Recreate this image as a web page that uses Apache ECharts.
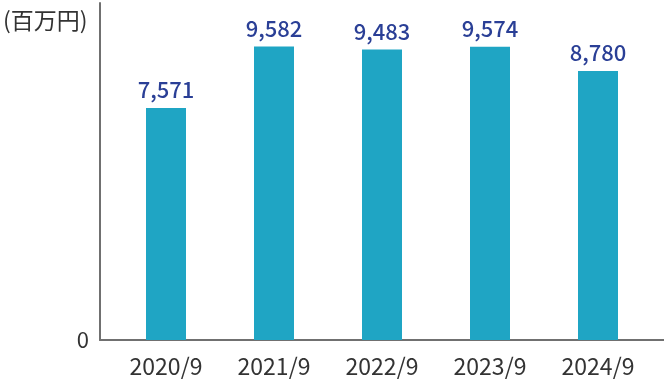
<!DOCTYPE html>
<html><head><meta charset="utf-8">
<script src="https://cdn.jsdelivr.net/npm/echarts@6/dist/echarts.min.js"></script>
<style>html,body{margin:0;padding:0;background:#fff}#c{width:664px;height:382px}</style>
</head><body><div id="c"></div>
<script>
const categories = ['2020/9', '2021/9', '2022/9', '2023/9', '2024/9'];
const values = [7571, 9582, 9483, 9574, 8780];
const unitLabel = '(百万円)';
const FONT = '"Noto Sans CJK JP", "Noto Sans", sans-serif';
const chart = echarts.init(document.getElementById('c'));
chart.setOption({
  animation: false,
  textStyle: { fontFamily: FONT },
  title: { text: unitLabel, left: -2, top: 4, padding: [5, 5], textStyle: { fontFamily: FONT, fontSize: 23, fontWeight: 'normal', color: '#333' } },
  grid: [
    { left: 100, right: 0, top: 3, bottom: 42 },
    { left: 112, right: 12, top: 3, bottom: 42 }
  ],
  xAxis: [
    { gridIndex: 0, type: 'category', data: categories, axisLine: { lineStyle: { color: '#707070', width: 2 } }, axisTick: { show: false }, axisLabel: { show: false } },
    { gridIndex: 1, type: 'category', data: categories, axisLine: { show: false }, axisTick: { show: false },
      axisLabel: { fontFamily: FONT, fontSize: 23, color: '#333', margin: 15 } }
  ],
  yAxis: [
    { gridIndex: 0, type: 'value', min: 0, max: 11000, interval: 11000, axisLine: { show: true, lineStyle: { color: '#707070', width: 2 } },
      axisTick: { show: false }, splitLine: { show: false },
      axisLabel: { fontFamily: FONT, fontSize: 22, color: '#333', margin: 11, formatter: v => v === 0 ? '0' : '' } },
    { gridIndex: 1, type: 'value', min: 0, max: 11000, show: false, splitLine: { show: false } }
  ],
  series: [{
    type: 'bar', xAxisIndex: 1, yAxisIndex: 1, data: values, barWidth: 40,
    itemStyle: { color: '#1fa5c4' },
    label: { show: true, position: 'top', distance: 7, fontFamily: FONT, fontSize: 22, fontWeight: 500, color: '#2a3f96',
      formatter: p => p.value.toLocaleString('en-US') }
  }]
});
</script></body></html>
